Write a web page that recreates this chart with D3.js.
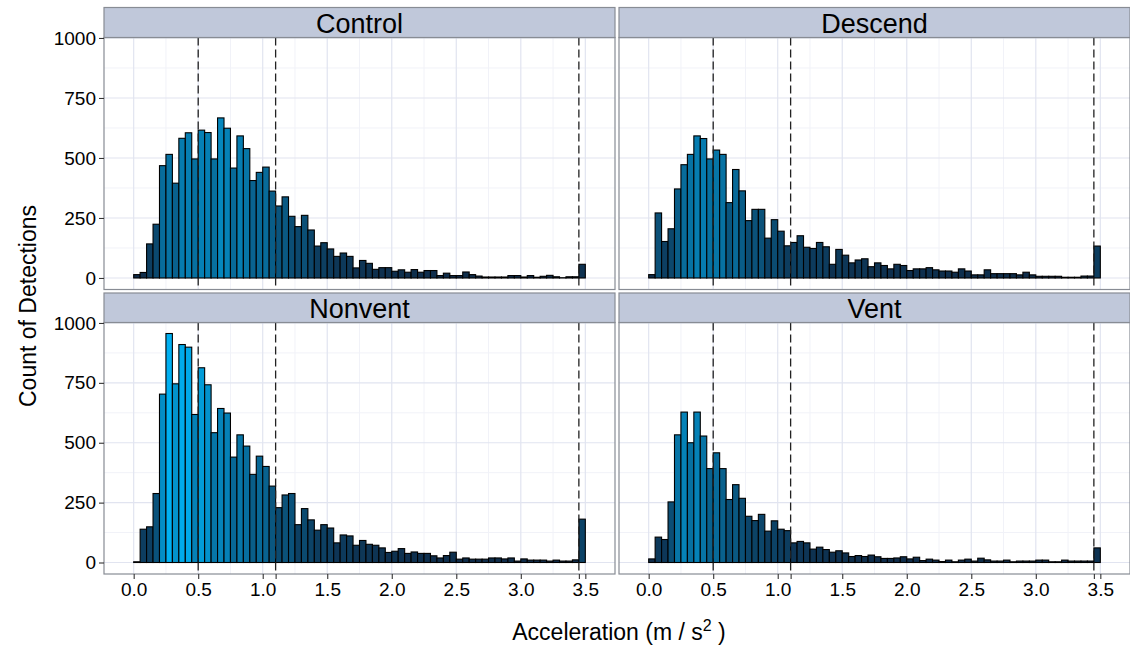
<!DOCTYPE html>
<html>
<head>
<meta charset="utf-8">
<script src="https://cdn.jsdelivr.net/npm/d3@7"></script>
<style>
  html, body { margin: 0; padding: 0; background: #fff; }
  svg { display: block; font-family: "Liberation Sans", Arial, sans-serif; }
</style>
</head>
<body>
<svg id="chart" width="1130" height="649"></svg>
<script>
// ---- data (counts per 0.05-wide bin, first bin starts at -0.05) ----
const facets = ["Control", "Descend", "Nonvent", "Vent"];
const binWidth = 0.05;
const firstBinStart = -0.05;

const controlCounts = [0,
  14,23,142,224,468,515,395,582,605,496,
  616,606,496,667,624,458,592,539,406,440,
  462,362,300,338,257,214,261,200,133,147,
  121,90,104,90,42,73,61,36,43,43,
  28,34,24,35,24,31,31,10,20,10,
  10,25,14,8,4,4,4,4,10,10,
  4,10,3,7,11,5,1,5,5,57,
  0];
const descendCounts = [0,
  14,271,152,205,371,472,515,592,581,496,
  533,515,314,452,363,239,286,286,166,243,
  195,134,148,176,128,123,148,130,57,119,
  95,63,75,80,47,63,52,38,57,52,
  31,38,38,43,34,29,29,24,38,29,
  13,13,34,18,18,18,18,13,24,13,
  7,7,7,7,3,3,3,8,8,133,
  0];
const nonventCounts = [0,
  3,139,149,288,703,956,746,910,899,618,
  813,742,542,643,624,440,533,486,368,444,
  401,319,229,282,288,158,225,178,135,158,
  144,82,115,111,72,92,76,72,61,42,
  47,58,38,44,38,38,28,19,29,43,
  14,19,14,14,14,19,19,15,19,6,
  15,10,10,10,6,10,6,6,11,181,
  0];
const ventCounts = [0,
  15,106,96,253,533,628,500,628,528,392,
  458,392,263,325,268,193,175,201,131,174,
  139,133,82,88,82,56,64,54,43,49,
  40,25,29,25,31,24,17,17,19,24,
  15,22,8,14,10,4,10,3,10,14,
  6,18,11,6,6,10,3,6,6,6,
  10,10,3,3,10,6,6,6,6,61,
  0];
const seriesCounts = [controlCounts, descendCounts, nonventCounts, ventCounts];

const refLines = [0.5, 1.1, 3.45];
const xTickLabels = ["0.0","0.5","1.0","1.5","2.0","2.5","3.0","3.5"];
const xTickValues = [0, 0.5, 1.0, 1.5, 2.0, 2.5, 3.0, 3.5];
const xMinor = [0.25, 0.75, 1.25, 1.75, 2.25, 2.75, 3.25];
const yTickValues = [0, 250, 500, 750, 1000];
const yTickLabels = ["0", "250", "500", "750", "1000"];
const yMinor = [125, 375, 625, 875];

// ---- layout ----
const svg = d3.select("#chart");
const cols = [{x0: 104, x1: 615}, {x0: 619, x1: 1130}];
const rows = [
  {s0: 7.5, s1: 37.5, p0: 37.5, p1: 289.5},
  {s0: 293, s1: 322.5, p0: 322.5, p1: 574}
];
const xDomain = [-0.23, 3.73];
const yDomain = [-48, 1002];

const maxCount = d3.max(seriesCounts.flat());
const color = d3.scaleLinear()
  .domain([0, maxCount])
  .range(["#0f2a47", "#00b0f2"])
  .interpolate(d3.interpolateRgb);

facets.forEach((name, fi) => {
  const c = cols[fi % 2], r = rows[Math.floor(fi / 2)];
  const x = d3.scaleLinear().domain(xDomain).range([c.x0, c.x1]);
  const y = d3.scaleLinear().domain(yDomain).range([r.p1, r.p0]);
  const g = svg.append("g");

  g.append("rect").attr("x", c.x0).attr("y", r.p0)
    .attr("width", c.x1 - c.x0).attr("height", r.p1 - r.p0)
    .attr("fill", "#ffffff");

  g.selectAll(".xminor").data(xMinor).join("line")
    .attr("x1", d => x(d)).attr("x2", d => x(d))
    .attr("y1", r.p0).attr("y2", r.p1)
    .attr("stroke", "#f1f2f8").attr("stroke-width", 1);
  g.selectAll(".yminor").data(yMinor).join("line")
    .attr("y1", d => y(d)).attr("y2", d => y(d))
    .attr("x1", c.x0).attr("x2", c.x1)
    .attr("stroke", "#f1f2f8").attr("stroke-width", 1);
  g.selectAll(".xmajor").data(xTickValues).join("line")
    .attr("x1", d => x(d)).attr("x2", d => x(d))
    .attr("y1", r.p0).attr("y2", r.p1)
    .attr("stroke", "#e1e4f0").attr("stroke-width", 1.2);
  g.selectAll(".ymajor").data(yTickValues).join("line")
    .attr("y1", d => y(d)).attr("y2", d => y(d))
    .attr("x1", c.x0).attr("x2", c.x1)
    .attr("stroke", "#e1e4f0").attr("stroke-width", 1.2);

  const counts = seriesCounts[fi];
  g.selectAll(".bar").data(counts).join("rect")
    .attr("x", (d, i) => x(firstBinStart + i * binWidth))
    .attr("width", (d, i) => x(firstBinStart + (i + 1) * binWidth) - x(firstBinStart + i * binWidth))
    .attr("y", d => y(d))
    .attr("height", d => y(0) - y(d))
    .attr("fill", d => color(d))
    .attr("stroke", "#000")
    .attr("stroke-width", 1.1);

  g.selectAll(".ref").data(refLines).join("line")
    .attr("x1", d => x(d)).attr("x2", d => x(d))
    .attr("y1", r.p0).attr("y2", r.p1)
    .attr("stroke", "#222").attr("stroke-width", 1.3)
    .attr("stroke-dasharray", "8,4");

  g.append("rect").attr("x", c.x0).attr("y", r.p0)
    .attr("width", c.x1 - c.x0).attr("height", r.p1 - r.p0)
    .attr("fill", "none").attr("stroke", "#888c94").attr("stroke-width", 1.2);

  g.append("rect").attr("x", c.x0).attr("y", r.s0)
    .attr("width", c.x1 - c.x0).attr("height", r.s1 - r.s0)
    .attr("fill", "#c0c8da").attr("stroke", "#888c94").attr("stroke-width", 1.2);
  g.append("text")
    .attr("x", (c.x0 + c.x1) / 2).attr("y", (r.s0 + r.s1) / 2 + 1)
    .attr("text-anchor", "middle").attr("dominant-baseline", "central")
    .attr("font-size", 27).attr("fill", "#000").text(name);

  if (fi % 2 === 0) {
    const ax = g.append("g").attr("transform", `translate(${c.x0},0)`)
      .call(d3.axisLeft(y).tickValues(yTickValues).tickSize(5).tickPadding(3)
        .tickFormat(d => yTickLabels[yTickValues.indexOf(d)]));
    ax.select(".domain").remove();
    ax.selectAll(".tick line").attr("stroke", "#333").attr("stroke-width", 1.1);
    ax.selectAll(".tick text").attr("font-size", 19).attr("fill", "#000")
      .attr("font-family", "Liberation Sans, Arial, sans-serif");
  }
  if (fi >= 2) {
    const allTicks = xTickValues.concat([1.1, 3.45]);
    const ax = g.append("g").attr("transform", `translate(0,${r.p1})`)
      .call(d3.axisBottom(x).tickValues(allTicks).tickSize(5).tickPadding(4)
        .tickFormat(d => { const k = xTickValues.indexOf(d); return k >= 0 ? xTickLabels[k] : ""; }));
    ax.select(".domain").remove();
    ax.selectAll(".tick line").attr("stroke", "#333").attr("stroke-width", 1.1);
    ax.selectAll(".tick text").attr("font-size", 19).attr("fill", "#000")
      .attr("font-family", "Liberation Sans, Arial, sans-serif");
  }
});

const xt = svg.append("text").attr("x", 619).attr("y", 640)
  .attr("text-anchor", "middle").attr("font-size", 23).attr("fill", "#000");
xt.append("tspan").text("Acceleration (m / s");
xt.append("tspan").attr("font-size", 16).attr("dy", -9).text("2");
xt.append("tspan").attr("dy", 9).text(" )");

svg.append("text")
  .attr("transform", "translate(36,306) rotate(-90)")
  .attr("text-anchor", "middle").attr("font-size", 23).attr("fill", "#000")
  .text("Count of Detections");
</script>
</body>
</html>
